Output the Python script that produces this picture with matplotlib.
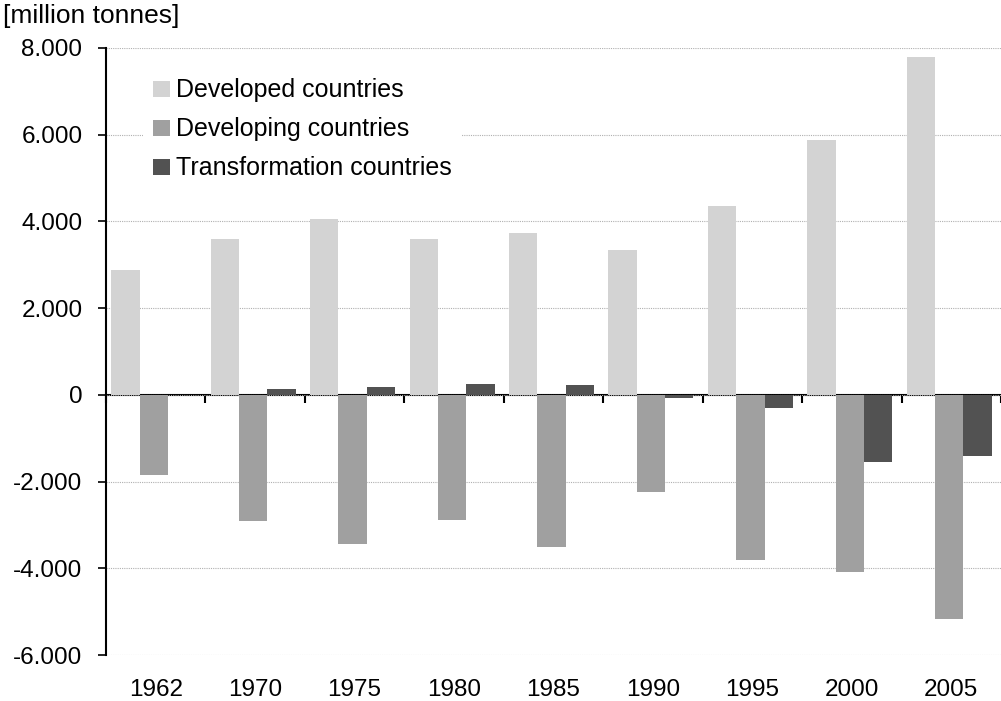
import numpy as np
import matplotlib
matplotlib.use("Agg")
import matplotlib.pyplot as plt
from matplotlib.ticker import FuncFormatter

years = ["1962", "1970", "1975", "1980", "1985", "1990", "1995", "2000", "2005"]
developed = [2880, 3600, 4050, 3600, 3730, 3340, 4350, 5880, 7790]
developing = [-1840, -2920, -3430, -2880, -3510, -2250, -3820, -4080, -5160]
transformation = [0, 130, 170, 240, 220, -75, -310, -1540, -1400]

series_names = ["Developed countries", "Developing countries", "Transformation countries"]
series_colors = ["#d3d3d3", "#a0a0a0", "#525252"]

plt.rcParams['font.family'] = ['Liberation Sans', 'DejaVu Sans']

fig = plt.figure(figsize=(10.01, 7.01), dpi=100)
ax = fig.add_axes([106/1001, 1 - 655/701, 895/1001, (655 - 48)/701])

ymin, ymax = -6000, 8000
x = np.arange(len(years))
w = 0.285
shift = -0.02
for i, (vals, name, col) in enumerate(zip([developed, developing, transformation],
                                          series_names, series_colors)):
    ax.bar(x + shift + (i - 1) * w, vals, width=w, color=col, label=name, zorder=3)

ax.set_ylim(ymin, ymax)
ax.set_xlim(-0.5, len(years) - 0.5)
ax.set_yticks(np.arange(ymin, ymax + 1, 2000))
ax.yaxis.set_major_formatter(FuncFormatter(
    lambda v, p: "0" if v == 0 else ("-" if v < 0 else "") + "{:,.0f}".format(abs(v)).replace(",", ".")))
ax.grid(axis='y', color='#b0b0b0', linestyle=(0, (1, 1)), linewidth=0.8, zorder=0)

for s in ['top', 'right', 'bottom']:
    ax.spines[s].set_visible(False)
ax.spines['left'].set_linewidth(1.5)
ax.tick_params(axis='y', direction='out', length=6, width=1.2, pad=11, labelsize=17.5)

# category labels under the plot, no tick marks
ax.set_xticks(x)
ax.set_xticklabels(years)
ax.tick_params(axis='x', length=0, pad=17, labelsize=17.5)

# zero line with ticks between categories
loc0 = (0 - ymin) / (ymax - ymin)
sec = ax.secondary_xaxis(loc0)
sec.set_xticks(np.arange(-0.5, len(years), 1.0))
sec.set_xticklabels([])
sec.spines['bottom'].set_linewidth(1.5)
sec.tick_params(axis='x', direction='out', length=6, width=1.5)

leg = ax.legend(loc='upper left', bbox_to_anchor=(0.027, 0.987), fontsize=18,
                frameon=True, facecolor='white', edgecolor='none', framealpha=1,
                fancybox=False, handlelength=0.7, handleheight=0.6,
                handletextpad=0.25, labelspacing=0.6, borderpad=0.4)
leg.set_zorder(5)

fig.text(0.003, 0.995, "[million tonnes]", ha='left', va='top', fontsize=19)

plt.savefig("out.png", dpi=100)
plt.close('all')
